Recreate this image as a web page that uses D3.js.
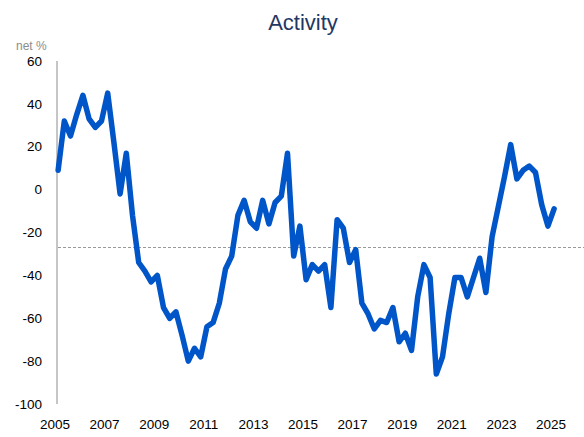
<!DOCTYPE html>
<html>
<head>
<meta charset="utf-8">
<script src="https://cdn.jsdelivr.net/npm/d3@7"></script>
<style>
  body { margin: 0; background: #fff; }
  svg { display: block; font-family: 'Liberation Sans', Arial, sans-serif; }
</style>
</head>
<body>
<div id="chart"></div>
<script>
// quarterly net % balance, 2005 Q1 .. 2025 Q1
const START_YEAR = 2005;
const activity = [
  9, 32, 25, 35, 44, 33, 29, 32,
  45, 22, -2, 17, -12, -34, -38, -43,
  -40, -55, -60, -57, -68, -80, -74, -78,
  -64, -62, -53, -37, -31, -12, -5, -15,
  -18, -5, -16, -6, -3, 17, -31, -17,
  -42, -35, -38, -35, -55, -14, -18, -34,
  -28, -53, -58, -65, -61, -62, -55, -71,
  -67, -75, -50, -35, -41, -86, -78, -58,
  -41, -41, -50, -41, -32, -48, -22, -8,
  6, 21, 5, 9, 11, 8, -7, -17,
  -9
];
const average = -27;
const yTicks = [60, 40, 20, 0, -20, -40, -60, -80, -100];
const xTicks = [2005, 2007, 2009, 2011, 2013, 2015, 2017, 2019, 2021, 2023, 2025];

const width = 584, height = 437;
const LINE_COLOR = '#0055c8';

const svg = d3.select('#chart').append('svg')
  .attr('width', width)
  .attr('height', height);

const x = d3.scaleLinear().domain([2005, 2025]).range([55, 551]);
const y = d3.scaleLinear().domain([-100, 60]).range([404, 61]);

const data = activity.map((v, i) => ({ t: START_YEAR + (i + 0.5) / 4, v }));

// title
svg.append('text')
  .attr('x', 303)
  .attr('y', 30)
  .attr('text-anchor', 'middle')
  .style('font-size', '22px')
  .style('fill', '#1f3864')
  .text('Activity');

svg.append('text')
  .attr('x', 16)
  .attr('y', 50)
  .style('font-size', '12px')
  .style('fill', '#8c8c8c')
  .text('net %');

// y axis: plain line with labels
svg.append('line')
  .attr('x1', 57).attr('x2', 57)
  .attr('y1', y(60)).attr('y2', y(-100))
  .attr('stroke', '#8c8c8c')
  .attr('stroke-width', 1);

svg.append('g').selectAll('text')
  .data(yTicks)
  .join('text')
  .attr('x', 42)
  .attr('y', d => y(d))
  .attr('dy', '0.35em')
  .attr('text-anchor', 'end')
  .style('font-size', '13.5px')
  .style('fill', '#000')
  .text(d => d);

svg.append('g').selectAll('text')
  .data(xTicks)
  .join('text')
  .attr('x', d => x(d))
  .attr('y', 429)
  .attr('text-anchor', 'middle')
  .style('font-size', '13.5px')
  .style('fill', '#000')
  .text(d => d);

// long-run average
svg.append('line')
  .attr('x1', 58).attr('x2', width)
  .attr('y1', y(average)).attr('y2', y(average))
  .attr('stroke', '#999')
  .attr('stroke-width', 1)
  .attr('stroke-dasharray', '3,2');

const line = d3.line()
  .x(d => x(d.t))
  .y(d => y(d.v));

svg.append('path')
  .datum(data)
  .attr('fill', 'none')
  .attr('stroke', LINE_COLOR)
  .attr('stroke-width', 5.5)
  .attr('stroke-linejoin', 'round')
  .attr('stroke-linecap', 'round')
  .attr('d', line);
</script>
</body>
</html>
